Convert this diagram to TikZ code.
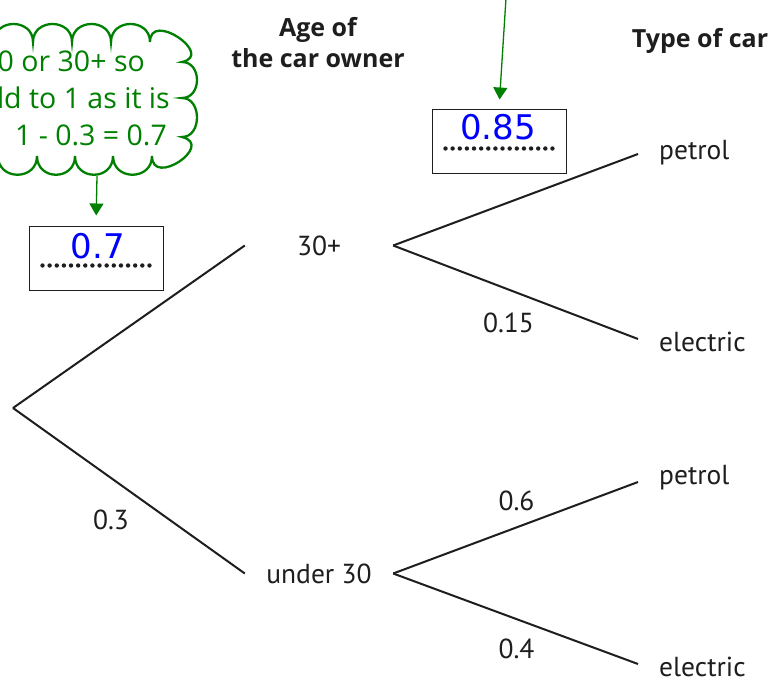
\documentclass[tikz,border=0pt]{standalone}
\usepackage{fontspec}
\setmainfont{PT Sans}
\newfontfamily\greenfont{Open Sans}
\newfontfamily\headfont{Open Sans}
\newfontfamily\handfont{DejaVu Sans}
\usetikzlibrary{arrows.meta,calc}
\definecolor{anno}{RGB}{0,128,0}
\definecolor{ink}{RGB}{30,30,30}
\definecolor{hand}{RGB}{0,0,255}
\begin{document}
\begin{tikzpicture}[x=1pt,y=-1pt,
 branch/.style={draw=ink,line width=2pt},
 lab/.style={font=\fontsize{27.5}{32}\selectfont, text=ink, inner sep=0pt, text height=19pt, text depth=0pt, anchor=base},
 mid/.style={lab, minimum width=148pt},
 leaf/.style={lab, anchor=base west, inner xsep=21pt},
 head/.style={font=\headfont\fontsize{25}{31}\bfseries\selectfont, align=center, inner sep=0pt, text=ink},
 ansbox/.style={draw=ink, line width=1pt, minimum width=134pt, minimum height=64pt, inner sep=0pt},
 dot/.style={fill=ink},
 handtext/.style={font=\handfont\fontsize{34}{34}\selectfont, text=hand, inner sep=0pt},
 note/.style={draw=anno, line width=1.3pt, -{Triangle[width=14pt,length=12pt]}},
 cloudline/.style={draw=anno, line width=2.3pt, fill=white},
 notetext/.style={font=\greenfont\fontsize{28.5}{28.5}\selectfont, text=anno, anchor=base east, inner sep=0pt},
]
\useasboundingbox (0,0) rectangle (775,698);
\clip (0,0) rectangle (775,698);
\fill[white] (0,0) rectangle (775,698);

% headers
\node[head] (hage) at (318,43) {Age of\\the car owner};
\node[head, anchor=base] (htype) at (700,48) {Type of car};

% tree
\coordinate (root) at (13,408);
\node[mid] (a30) at (319,255) {30+};
\node[mid] (u30) at (319,583) {under 30};
\node[leaf] (p1) at (638,159) {petrol};
\node[leaf] (e1) at (638,351) {electric};
\node[leaf] (p2) at (638,484) {petrol};
\node[leaf] (e2) at (638,676) {electric};
\draw[branch] (root) -- (a30.west);
\draw[branch] (root) -- (u30.west);
\draw[branch] (a30.east) -- ($(p1.west)+(0,4.5)$);
\draw[branch] (a30.east) -- ($(e1.west)+(0,-2.5)$);
\draw[branch] (u30.east) -- ($(p2.west)+(0,7.5)$);
\draw[branch] (u30.east) -- ($(e2.west)+(0,-2.5)$);

\node[lab] (l03) at (111,529) {0.3};
\node[lab] (l015) at (508.5,332) {0.15};
\node[lab] (l06) at (516.5,510) {0.6};
\node[lab] (l04) at (516.5,658) {0.4};

% answer boxes
\node[ansbox] (box07) at (96,258) {};
\node[ansbox] (box085) at (499,141) {};
\foreach \i in {0,...,15} {
  \fill[dot] ($(box07.south west)+(14+\i*7.13,-25)$) circle (2.2);
  \fill[dot] ($(box085.south west)+(14+\i*7.13,-25)$) circle (2.2);
}
\node[handtext] (h07) at ($(box07.center)+(2,-12)$) {0.7};
\node[handtext] (h085) at ($(box085.center)+(-1,-14)$) {0.85};

% cloud
\draw[cloudline] (-45,42)
 .. controls (-45,18) and (-6,18) .. (-6,42)
 .. controls (-6,18) and (33,18) .. (33,42)
 .. controls (33,18) and (72,18) .. (72,42)
 .. controls (72,18) and (111,18) .. (111,42)
 .. controls (111,18) and (150,18) .. (150,42)
 .. controls (150,10) and (215,55) .. (182,62)
 .. controls (202,62) and (202,98) .. (182,98)
 .. controls (202,98) and (202,137) .. (182,137)
 .. controls (215,145) and (152,188) .. (152,156)
 .. controls (152,181) and (113,181) .. (113,156)
 .. controls (113,181) and (75,181) .. (75,156)
 .. controls (75,181) and (37,181) .. (37,156)
 .. controls (37,181) and (-2,181) .. (-2,156)
 .. controls (-2,181) and (-41,181) .. (-41,156)
 -- cycle;
\node[notetext] (t1) at (145,72) {0 or 30+ so};
\node[notetext] (t2) at (170,108) {ld to 1 as it is};
\node[notetext] (t3) at (167,145) {1 - 0.3 = 0.7};

% annotation arrows
\coordinate (cloudbot) at (97,176);
\coordinate (topsrc) at (506,-2);
\draw[note, shorten >=10pt] (cloudbot) -- (box07.north);
\draw[note, shorten >=9pt] (topsrc) -- (box085.north);
\end{tikzpicture}
\end{document}
